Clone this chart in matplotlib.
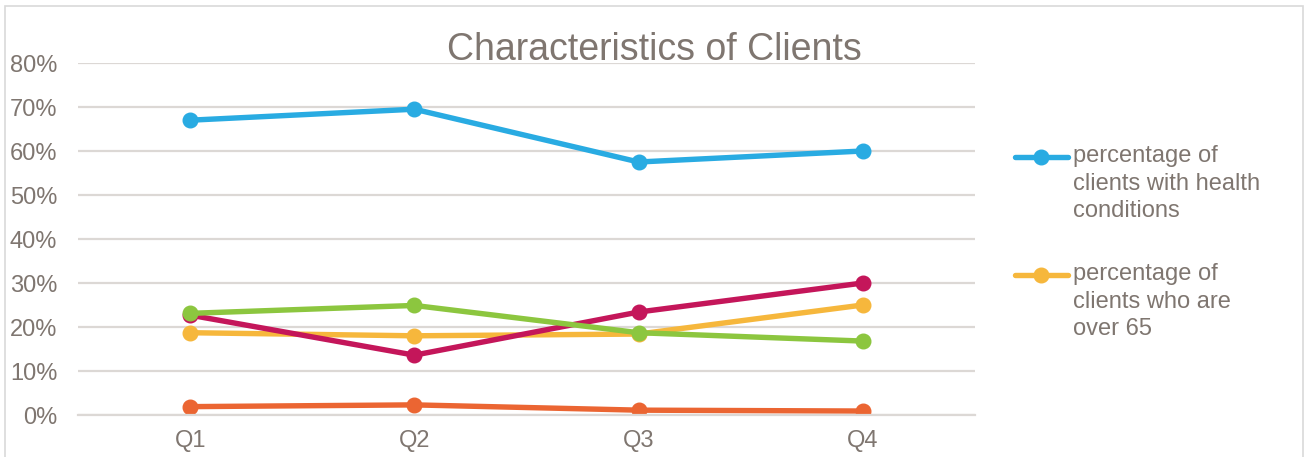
import matplotlib
matplotlib.use("Agg")
import matplotlib.pyplot as plt
from matplotlib.lines import Line2D
from matplotlib.patches import Rectangle
from matplotlib.ticker import PercentFormatter, MultipleLocator

plt.rcParams["font.family"] = ["Liberation Sans", "DejaVu Sans"]

quarters = ["Q1", "Q2", "Q3", "Q4"]
health_conditions = [0.67, 0.695, 0.575, 0.60]
over_65 = [0.187, 0.180, 0.184, 0.250]
series_red = [0.019, 0.023, 0.011, 0.009]
series_crimson = [0.227, 0.136, 0.234, 0.300]
series_green = [0.231, 0.249, 0.187, 0.168]

legend_labels = [
    "percentage of\nclients with health\nconditions",
    "percentage of\nclients who are\nover 65",
]

TEXT = "#7f7670"
GRID = "#dcd8d5"
colors = {
    "blue": "#29abe2",
    "yellow": "#f6b73c",
    "red": "#eb6532",
    "crimson": "#c4165a",
    "green": "#8cc63f",
}

fig = plt.figure(figsize=(13.06, 4.57), dpi=100)
ax = fig.add_axes([78 / 1306, 1 - 415 / 457, (975 - 78) / 1306, (415 - 63) / 457])

x = range(len(quarters))
style = dict(linewidth=3.9, marker="o", markersize=10.5, solid_capstyle="round")
ax.plot(x, health_conditions, color=colors["blue"], **style)
ax.plot(x, over_65, color=colors["yellow"], **style)
ax.plot(x, series_red, color=colors["red"], **style)
ax.plot(x, series_crimson, color=colors["crimson"], **style)
ax.plot(x, series_green, color=colors["green"], **style)

ax.set_xlim(-0.5, len(quarters) - 0.5)
ax.set_ylim(0, 0.8)
ax.yaxis.set_major_locator(MultipleLocator(0.1))
ax.yaxis.set_major_formatter(PercentFormatter(1.0, decimals=0))
ax.set_xticks(list(x))
ax.set_xticklabels(quarters)
ax.tick_params(axis="y", length=0, pad=15, labelsize=17, labelcolor=TEXT)
ax.tick_params(axis="x", length=0, pad=11, labelsize=17, labelcolor=TEXT)
ax.grid(axis="y", color=GRID, linewidth=1.6)
ax.set_axisbelow(True)
for side in ["top", "right", "left"]:
    ax.spines[side].set_visible(False)
ax.spines["bottom"].set_color(GRID)
ax.spines["bottom"].set_linewidth(1.6)
ax.patch.set_alpha(0)

fig.text(654 / 1306, 1 - 50 / 457, "Characteristics of Clients", ha="center",
         va="center", fontsize=27, color=TEXT)

# legend (only the first two entries are visible)
for i, (label, key) in enumerate(zip(legend_labels, ["blue", "yellow"])):
    y = 1 - (157 + i * 118) / 457
    fig.add_artist(Line2D([1015 / 1306, 1068 / 1306], [y, y], color=colors[key],
                          linewidth=3.9, solid_capstyle="round"))
    fig.add_artist(Line2D([1041 / 1306], [y], color=colors[key], marker="o",
                          markersize=10.5, linestyle="none"))
    fig.text(1073 / 1306, y + 12 / 457, label, ha="left", va="top", fontsize=17,
             color=TEXT, linespacing=1.33)

fig.add_artist(Rectangle((5 / 1306, -0.05), 1298 / 1306, 1.05 - 6 / 457,
                         transform=fig.transFigure, fill=False,
                         edgecolor="#d9d9d9", linewidth=1.2))

fig.savefig("out.png", dpi=100)
